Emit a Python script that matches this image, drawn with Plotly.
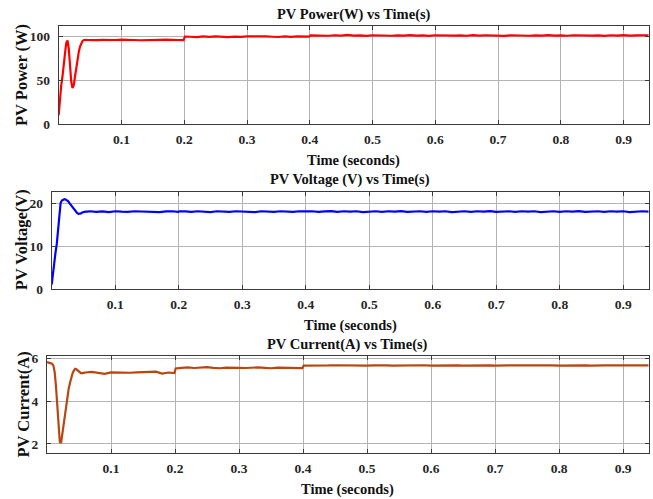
import plotly.graph_objects as go

W, H = 653, 499

time_s = [
    0.000, 0.002, 0.004, 0.006, 0.008, 0.010, 0.012, 0.014, 0.016, 0.018,
    0.020, 0.022, 0.024, 0.026, 0.028, 0.030, 0.032, 0.034, 0.036, 0.038,
    0.040, 0.042, 0.044, 0.046, 0.048, 0.050, 0.053, 0.056,
    0.06, 0.07, 0.08, 0.09, 0.10, 0.11, 0.12, 0.13, 0.14, 0.15, 0.16, 0.17, 0.18, 0.19,
    0.199, 0.201,
    0.21, 0.22, 0.23, 0.24, 0.25, 0.26, 0.27, 0.28, 0.29, 0.30,
    0.31, 0.32, 0.33, 0.34, 0.35, 0.36, 0.37, 0.38, 0.39,
    0.399, 0.401,
    0.41, 0.42, 0.43, 0.44, 0.45, 0.46, 0.47, 0.48, 0.49,
    0.50, 0.51, 0.52, 0.53, 0.54, 0.55, 0.56, 0.57, 0.58,
    0.59, 0.60, 0.61, 0.62, 0.63, 0.64, 0.65, 0.66, 0.67,
    0.68, 0.69, 0.70, 0.71, 0.72, 0.73, 0.74, 0.75, 0.76,
    0.77, 0.78, 0.79, 0.80, 0.81, 0.82, 0.83, 0.84, 0.85,
    0.86, 0.87, 0.88, 0.89, 0.90, 0.91, 0.92, 0.93, 0.94,
]

pv_power_w = [
    10, 30, 44, 54, 64, 80, 92, 95, 86, 66,
    48, 41, 44, 54, 64, 74, 82, 88, 92, 94.5,
    95.5, 95.8, 95.6, 95.5, 95.4, 95.5, 95.3, 95.5,
    95.4, 95.7, 95.2, 95.5, 95.8, 95.3, 95.5, 95.2, 95.6, 95.4, 95.6, 95.8, 95.3, 95.5,
    95.4, 99.3,
    99.2, 98.8, 99.5, 99.0, 99.6, 99.1, 98.8, 99.4, 99.0, 99.5,
    99.7, 99.1, 99.5, 99.2, 98.9, 99.5, 99.1, 99.6, 99.2,
    99.3, 100.8,
    100.6, 101.1, 100.3, 100.9, 100.5, 101.2, 100.4, 100.8, 100.2,
    100.9, 100.6, 101.0, 100.3, 100.8, 100.5, 101.1, 100.4, 100.7,
    100.2, 100.9, 100.6, 101.0, 100.4, 100.8, 100.3, 101.1, 100.5,
    100.9, 100.4, 100.7, 100.2, 100.9, 100.6, 101.0, 100.3, 100.8,
    100.5, 101.1, 100.4, 100.7, 100.3, 100.9, 100.6, 101.0, 100.4,
    100.8, 100.2, 100.9, 100.5, 101.0, 100.4, 100.8, 100.6, 100.9,
]

pv_voltage_v = [
    1, 4, 6.5, 8.5, 10.5, 14, 17.5, 20, 20.6, 20.8,
    20.9, 20.85, 20.7, 20.4, 20.0, 19.6, 19.2, 18.8, 18.4, 18.0,
    17.7, 17.5, 17.5, 17.6, 17.8, 17.9, 18.0, 18.0,
    18.1, 17.95, 18.05, 17.9, 18.1, 18.0, 17.95, 18.1, 18.05, 18.15, 18.0, 17.9, 18.05, 18.1,
    17.95, 18.1,
    18.05, 17.95, 18.1, 18.0, 17.9, 18.1, 18.05, 17.95, 18.1, 18.0,
    18.05, 17.9, 18.1, 18.0, 17.95, 18.1, 18.05, 17.95, 18.1,
    18.0, 18.05,
    18.1, 17.95, 18.05, 18.15, 17.95, 18.1, 18.0, 18.1, 17.9,
    18.05, 18.1, 17.95, 18.1, 18.0, 18.15, 17.95, 18.05, 18.1,
    17.95, 18.1, 18.0, 18.1, 17.9, 18.05, 18.1, 17.95, 18.1,
    18.0, 18.15, 17.95, 18.05, 18.1, 17.95, 18.1, 18.0, 18.1,
    17.9, 18.05, 18.1, 17.95, 18.1, 18.0, 18.15, 17.95, 18.05,
    18.1, 17.95, 18.1, 18.0, 18.1, 17.9, 18.05, 18.1, 18.0,
]

pv_current_a = [
    5.82, 5.80, 5.78, 5.77, 5.74, 5.65, 5.35, 4.7, 3.8, 2.8,
    2.1, 2.05, 2.5, 3.0, 3.5, 3.9, 4.3, 4.6, 4.85, 5.1,
    5.3, 5.42, 5.5, 5.48, 5.42, 5.35, 5.3, 5.3,
    5.33, 5.36, 5.31, 5.27, 5.34, 5.33, 5.35, 5.32, 5.34, 5.36, 5.35, 5.37, 5.28, 5.33,
    5.30, 5.52,
    5.55, 5.57, 5.54, 5.56, 5.58, 5.55, 5.53, 5.56, 5.57, 5.55,
    5.54, 5.56, 5.57, 5.55, 5.53, 5.56, 5.55, 5.54, 5.55,
    5.54, 5.65,
    5.66, 5.67, 5.65, 5.66, 5.67, 5.66, 5.65, 5.67, 5.66,
    5.65, 5.66, 5.67, 5.66, 5.65, 5.66, 5.67, 5.66, 5.66,
    5.67, 5.65, 5.66, 5.66, 5.67, 5.66, 5.65, 5.66, 5.67,
    5.66, 5.66, 5.65, 5.67, 5.66, 5.66, 5.67, 5.65, 5.66,
    5.66, 5.67, 5.66, 5.65, 5.66, 5.67, 5.66, 5.66, 5.65,
    5.67, 5.66, 5.66, 5.67, 5.65, 5.66, 5.66, 5.67, 5.66,
]

assert len(time_s) == len(pv_power_w) == len(pv_voltage_v) == len(pv_current_a)

x_ticks = [0.1, 0.2, 0.3, 0.4, 0.5, 0.6, 0.7, 0.8, 0.9]
x_tick_labels = ["0.1", "0.2", "0.3", "0.4", "0.5", "0.6", "0.7", "0.8", "0.9"]

panel_titles = ["PV Power(W) vs Time(s)", "PV Voltage (V) vs Time(s)", "PV Current(A) vs Time(s)"]
y_titles = ["PV Power (W)", "PV Voltage(V)", "PV Current(A)"]
x_title = "Time (seconds)"
y_ticks = [[0, 50, 100], [0, 10, 20], [2, 4, 6]]
y_ranges = [[0, 111.4], [0, 22.7], [1.58, 6.1]]
x_range = [0, 0.94]
colors = ["#ff0000", "#0000ff", "#b8460f"]
series = [pv_power_w, pv_voltage_v, pv_current_a]

# pixel layout of each panel: (left, top, bottom), title centre y, x-title centre y, y-title centre x
panels_px = [(58.7, 26, 124), (51.7, 191.5, 289), (47, 356, 453)]
title_y_px = [14, 179, 344]
xtitle_y_px = [160, 325, 489]
ytitle_x_px = [21, 21, 23]
right_px = 648.7

FONT = "Liberation Serif"


def fx(px):
    return px / W


def fy(px):
    return (H - px) / H


fig = go.Figure()
annotations = []
layout = dict(
    width=W, height=H,
    margin=dict(l=0, r=0, t=0, b=0, autoexpand=False),
    paper_bgcolor="white", plot_bgcolor="white",
    showlegend=False,
    font=dict(family=FONT, color="#111111"),
)

for i in range(3):
    sfx = "" if i == 0 else str(i + 1)
    fig.add_trace(go.Scatter(
        x=time_s, y=series[i], mode="lines",
        line=dict(color=colors[i], width=2.2),
        xaxis="x" + sfx, yaxis="y" + sfx, showlegend=False,
    ))
    left, top, bottom = panels_px[i]
    common = dict(
        showline=True, linecolor="#3a3a3a", linewidth=1, mirror="ticks",
        ticks="inside", ticklen=4, tickcolor="#3a3a3a", automargin=False,
        showgrid=True, gridcolor="#b4b4b4", gridwidth=1, zeroline=False,
        tickfont=dict(family=FONT, size=13.5, color="#262626", weight="bold"),
    )
    layout["xaxis" + sfx] = dict(
        common, domain=[fx(left), fx(right_px)], range=x_range, anchor="y" + sfx,
        tickmode="array", tickvals=x_ticks, ticktext=x_tick_labels,
        ticklabelstandoff=3,
    )
    layout["yaxis" + sfx] = dict(
        common, domain=[fy(bottom), fy(top)], range=y_ranges[i], anchor="x" + sfx,
        tickmode="array", tickvals=y_ticks[i],
        ticklabelstandoff=5,
    )
    cx = fx((left + right_px) / 2)
    annotations.append(dict(
        text=panel_titles[i], xref="paper", yref="paper",
        x=cx, y=fy(title_y_px[i]), xanchor="center", yanchor="middle", showarrow=False,
        font=dict(family=FONT, size=14.5, color="#111111", weight="bold"),
    ))
    annotations.append(dict(
        text=x_title, xref="paper", yref="paper",
        x=cx, y=fy(xtitle_y_px[i]), xanchor="center", yanchor="middle", showarrow=False,
        font=dict(family=FONT, size=14.5, color="#111111", weight="bold"),
    ))
    annotations.append(dict(
        text=y_titles[i], xref="paper", yref="paper", textangle=-90,
        x=fx(ytitle_x_px[i]), y=fy((top + bottom) / 2), xanchor="center", yanchor="middle",
        showarrow=False,
        font=dict(family=FONT, size=16.5, color="#111111", weight="bold"),
    ))

layout["annotations"] = annotations
fig.update_layout(**layout)
# remove the browser's default 8px page margin so the 653x499 figure fills the window exactly
fig.write_html(
    "out.html",
    config={"displayModeBar": False},
    post_script="document.body.style.margin='0';document.body.style.overflow='hidden';",
)
